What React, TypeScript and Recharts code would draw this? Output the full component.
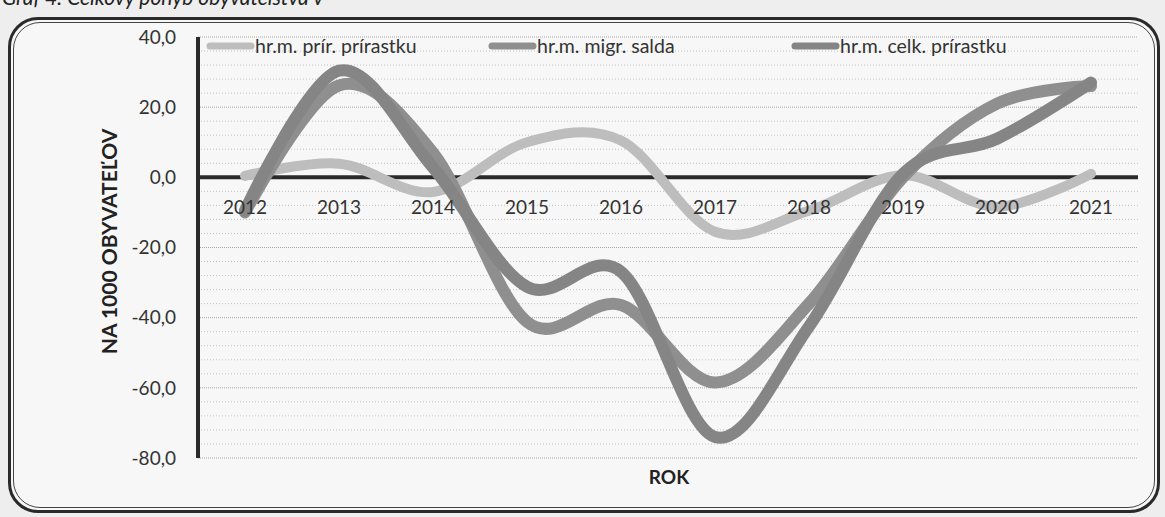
import React from 'react';
import { LineChart, Line, XAxis, YAxis, CartesianGrid, ReferenceLine, ReferenceDot } from 'recharts';

// ---- data ----
const years = ['2012', '2013', '2014', '2015', '2016', '2017', '2018', '2019', '2020', '2021'];
const prirPrirastok = [0.4, 3.9, -4.2, 10.0, 10.5, -15.5, -9.5, 0.6, -8.4, 1.0];
const migrSaldo = [-10.0, 26.2, 7.0, -41.2, -36.4, -58.5, -36.0, 0.0, 21.0, 26.0];
const celkPrirastok = [-9.5, 30.4, 2.8, -31.2, -26.9, -74.0, -42.5, 1.0, 11.0, 27.0];

const seriesKeys = ['prir', 'migr', 'celk'];
const seriesNames = ['hr.m. prír. prírastku', 'hr.m. migr. salda', 'hr.m. celk. prírastku'];
const seriesColors = ['#bdbdbd', '#8f8f8f', '#858585'];

const yTicks = [-80, -60, -40, -20, 0, 20, 40];
const minorGridValues = [-76, -72, -68, -64, -56, -52, -48, -44, -36, -32, -28, -24, -16, -12, -8, -4, 4, 8, 12, 16, 24, 28, 32, 36];

const titleText = 'Graf 4: Celkový pohyb obyvateľstva v';
const yTitle = 'NA 1000 OBYVATEĽOV';
const xTitle = 'ROK';

const data = years.map((y, i) => ({
  year: y,
  prir: prirPrirastok[i],
  migr: migrSaldo[i],
  celk: celkPrirastok[i],
}));

// Excel-like smoothed line (Catmull-Rom / cardinal with tension 0)
class SmoothCurve {
  _context: any; _k: number; _x0: number; _x1: number; _x2: number; _y0: number; _y1: number; _y2: number; _point: number;
  constructor(context: any) {
    this._context = context;
    this._k = 1 / 6;
    this._x0 = this._x1 = this._x2 = this._y0 = this._y1 = this._y2 = NaN;
    this._point = 0;
  }
  areaStart() {}
  areaEnd() {}
  lineStart() {
    this._x0 = this._x1 = this._x2 = this._y0 = this._y1 = this._y2 = NaN;
    this._point = 0;
  }
  _bez(x: number, y: number) {
    this._context.bezierCurveTo(
      this._x1 + this._k * (this._x2 - this._x0),
      this._y1 + this._k * (this._y2 - this._y0),
      this._x2 + this._k * (this._x1 - x),
      this._y2 + this._k * (this._y1 - y),
      this._x2,
      this._y2
    );
  }
  lineEnd() {
    if (this._point === 2) this._context.lineTo(this._x2, this._y2);
    else if (this._point === 3) this._bez(this._x1, this._y1);
  }
  point(x: number, y: number) {
    x = +x; y = +y;
    switch (this._point) {
      case 0: this._point = 1; this._context.moveTo(x, y); break;
      case 1: this._point = 2; this._x1 = x; this._y1 = y; break;
      case 2: this._point = 3; this._bez(x, y); break;
      default: this._bez(x, y); break;
    }
    this._x0 = this._x1; this._x1 = this._x2; this._x2 = x;
    this._y0 = this._y1; this._y1 = this._y2; this._y2 = y;
  }
}
const smoothCurve: any = (context: any) => new SmoothCurve(context);

const fmt = (v: number) => v.toFixed(1).replace('.', ',');
const FONT = 'Lato, "Noto Sans", sans-serif';

const YTitle = (props: any) => {
  const vb = props.viewBox || {};
  const cx = vb.x - 10;
  const cy = vb.y + vb.height / 2 - 6;
  return (
    <text x={cx} y={cy} transform={`rotate(-90 ${cx} ${cy})`} textAnchor="middle" dominantBaseline="central"
      fontFamily={FONT} fontWeight="bold" fontSize={21} fill="#222">{yTitle}</text>
  );
};

const XTitle = (props: any) => {
  const vb = props.viewBox || {};
  return (
    <text x={vb.x + vb.width / 2 + 1} y={vb.y + 18} textAnchor="middle" dominantBaseline="central"
      fontFamily={FONT} fontWeight="bold" fontSize={19} fill="#222">{xTitle}</text>
  );
};

const legendWidths = [282, 303, 260];

export default function App() {
  return (
    <div style={{ position: 'absolute', left: 0, top: 0, width: 1165, height: 517, background: '#eeeeee', overflow: 'hidden', fontFamily: FONT }}>
      {/* cut-off caption at the very top */}
      <div style={{ position: 'absolute', left: 0, top: 0, width: 900, height: 9, overflow: 'hidden' }}>
        <div style={{ position: 'absolute', left: 2, top: -16, fontSize: 21, fontStyle: 'italic', color: '#222', whiteSpace: 'nowrap' }}>{titleText}</div>
      </div>
      {/* double frame */}
      <div style={{ position: 'absolute', left: 8, top: 17, width: 1146, height: 490, border: '3px solid #2a2a2a', borderRadius: 30, background: '#f7f7f7' }}>
        <div style={{ position: 'absolute', left: 2, top: 2, right: 2, bottom: 2, border: '1.5px solid #444', borderRadius: 27 }} />
      </div>
      <div style={{ position: 'absolute', left: 0, top: 0 }}>
        <LineChart width={1165} height={517} data={data} margin={{ top: 37, right: 27, bottom: 6, left: 118 }}>
          <CartesianGrid vertical={false} horizontalValues={minorGridValues} stroke="#c4c4c4" strokeDasharray="1 2" />
          <CartesianGrid vertical={false} horizontalValues={yTicks} stroke="#a8a8a8" strokeDasharray="1 1" />
          <XAxis dataKey="year" type="category" padding={{ left: 47, right: 47 }} tick={false} tickLine={false} axisLine={false} height={53}
            label={<XTitle />} />
          <YAxis type="number" domain={[-80, 40]} ticks={yTicks} interval={0} width={80} tickFormatter={fmt}
            tickLine={false} tickSize={0} tickMargin={22}
            tick={{ fontSize: 19, fill: '#333', fontFamily: FONT }}
            axisLine={{ stroke: '#2a2a2a', strokeWidth: 4 }}
            label={<YTitle />} />
          <ReferenceLine y={0} stroke="#2a2a2a" strokeWidth={4} />
          {years.map((y) => (
            <ReferenceDot key={y} x={y} y={0} r={1} fill="none" stroke="none"
              label={{ value: y, position: 'bottom', offset: 22, fontSize: 19, fill: '#333', fontFamily: FONT }} />
          ))}
          {seriesKeys.map((k, i) => (
            <Line key={k} dataKey={k} name={seriesNames[i]} type={smoothCurve} stroke={seriesColors[i]}
              strokeWidth={i === 0 ? 10 : 12} strokeLinecap="round" dot={false} activeDot={false}
              isAnimationActive={false} />
          ))}
        </LineChart>
      </div>
      {/* legend */}
      <div style={{ position: 'absolute', left: 205, top: 34, display: 'flex', alignItems: 'center' }}>
        {seriesNames.map((n, i) => (
          <div key={n} style={{ width: legendWidths[i], display: 'flex', alignItems: 'center' }}>
            <svg width={50} height={12} style={{ display: 'block' }}>
              <line x1={5} y1={6} x2={46} y2={6} stroke={seriesColors[i]} strokeWidth={7} strokeLinecap="round" />
            </svg>
            <span style={{ fontSize: 19.5, color: '#333', whiteSpace: 'nowrap' }}>{n}</span>
          </div>
        ))}
      </div>
    </div>
  );
}
